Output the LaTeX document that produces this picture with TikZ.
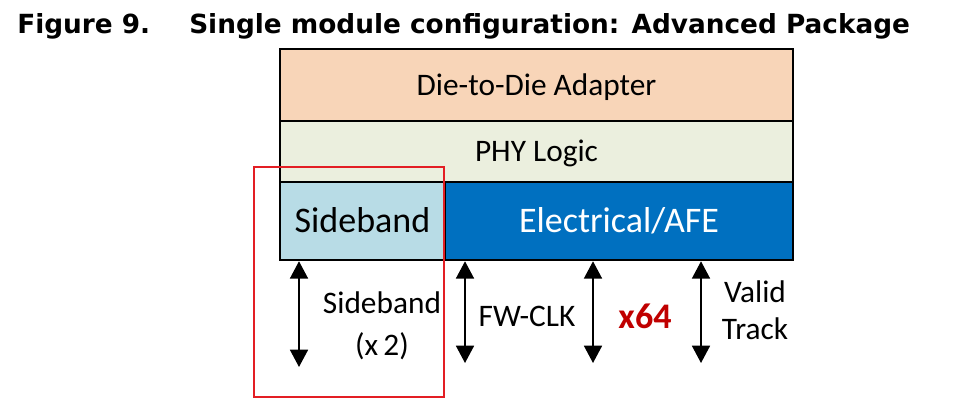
\documentclass[tikz,border=0pt]{standalone}
\usepackage{fontspec}
\setmainfont{Carlito}
\newfontfamily\titlefont{DejaVu Sans}
\usetikzlibrary{arrows.meta}
\definecolor{d2dfill}{HTML}{F8D5B8}
\definecolor{phyfill}{HTML}{EBEFDE}
\definecolor{sbfill}{HTML}{B8DCE6}
\definecolor{afefill}{HTML}{0070C0}
\definecolor{hlred}{HTML}{E31E24}
\definecolor{xred}{HTML}{C00000}
\begin{document}
\begin{tikzpicture}[x=0.75pt,y=-0.75pt,
  layer/.style={draw=black, line width=1.9pt, inner sep=0pt, text depth=0pt},
  smalltxt/.style={font=\fontsize{23.5}{28}\selectfont, text height=15.1pt},
  bigtxt/.style={font=\fontsize{27}{32}\selectfont, text height=17.4pt},
  lbl/.style={font=\fontsize{23.5}{28}\selectfont, align=center, inner sep=0pt},
  biarrow/.style={line width=1.3pt, {Triangle[width=13.5pt,length=13pt]}-{Triangle[width=13.5pt,length=13pt]}},
  ttl/.style={font=\titlefont\bfseries\fontsize{19.75}{24}\selectfont, anchor=base west, inner sep=0pt}
]
\useasboundingbox (0,0) rectangle (953,409);
% title
\node[ttl] (fig) at (17,34) {Figure 9.};
\node[ttl] (title) at (189,34) {Single module configuration: Advanced Package};
% layers
\node[layer, smalltxt, fill=d2dfill, minimum width=384.75pt, minimum height=54pt] (d2d) at (536.5,85) {Die-to-Die Adapter};
\node[layer, smalltxt, fill=phyfill, minimum width=384.75pt, minimum height=45.75pt] (phy) at (536.5,151.5) {PHY Logic};
\node[layer, bigtxt, fill=sbfill, minimum width=123.75pt, minimum height=58.5pt] (sb) at (362.5,221) {Sideband};
\node[layer, bigtxt, fill=afefill, text=white, minimum width=261pt, minimum height=58.5pt] (afe) at (619,221) {Electrical/AFE};
% arrow ends
\coordinate (e1) at (299,367);
\coordinate (e2) at (465,363);
\coordinate (e3) at (593,363);
\coordinate (e4) at (701,363);
\draw[biarrow] (sb.south -| e1) -- (e1);
\draw[biarrow] (afe.south -| e2) -- (e2);
\draw[biarrow] (afe.south -| e3) -- (e3);
\draw[biarrow] (afe.south -| e4) -- (e4);
% labels
\node[lbl, font=\fontsize{23.5}{31.5}\selectfont] (lsb) at (382,326) {Sideband\\(x\,2)};
\node[lbl] (lfw) at (527,316) {FW-CLK};
\node[lbl, font=\bfseries\fontsize{27}{30}\selectfont, text=xred] (lx64) at (645,316) {x64};
\node[lbl, font=\fontsize{23.5}{27.5}\selectfont] (lvt) at (755,310) {Valid\\Track};
% highlight
\node[draw=hlred, line width=1.5pt, minimum width=142.5pt, minimum height=172.5pt, inner sep=0pt] (hl) at (349,282) {};
\end{tikzpicture}
\end{document}
